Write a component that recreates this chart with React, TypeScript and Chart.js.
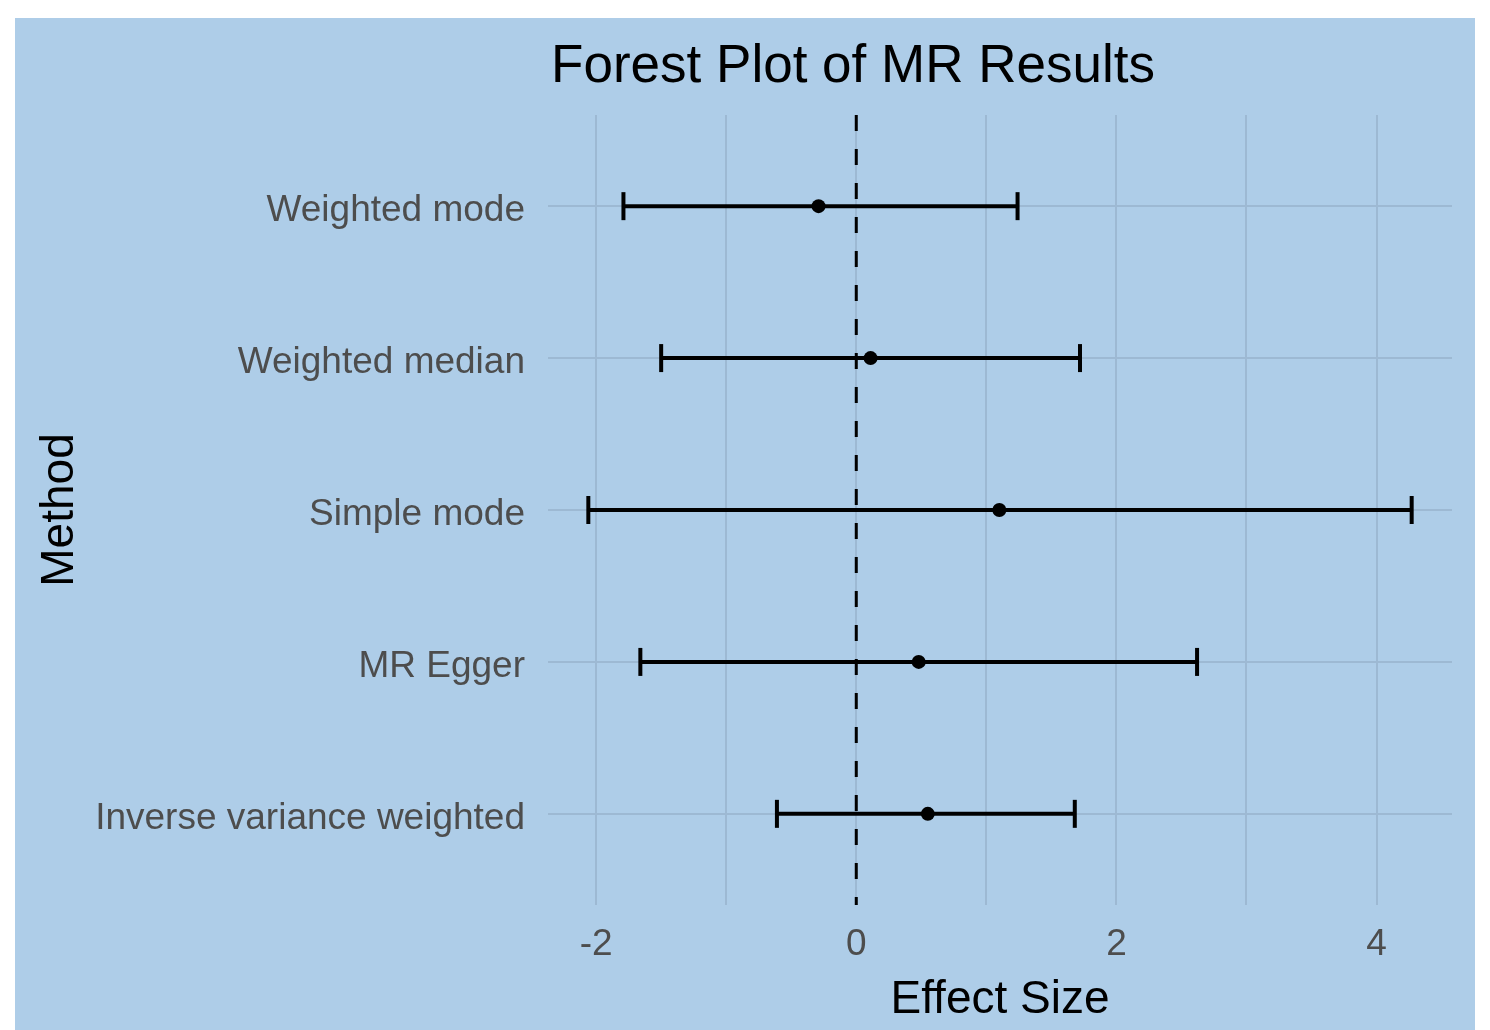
import React, { useEffect, useRef } from "react";
import { Chart, registerables } from "chart.js";

Chart.register(...registerables);

const methods = [
  "Weighted mode",
  "Weighted median",
  "Simple mode",
  "MR Egger",
  "Inverse variance weighted",
];
const estimates = [-0.29, 0.11, 1.1, 0.48, 0.55];
const lowerCI = [-1.79, -1.5, -2.06, -1.66, -0.61];
const upperCI = [1.24, 1.72, 4.27, 2.62, 1.68];
const xTickValues = [-2, -1, 0, 1, 2, 3, 4];
const xTickLabels = ["-2", "", "0", "", "2", "", "4"];
const referenceValue = 0;

const FONT = "'Liberation Sans', Arial, Helvetica, sans-serif";
const BG = "#AECDE8";
const GRID = "#9DB9D3";

const W = 1460;
const H = 1012;
const AREA_LEFT = 533;
const AREA_RIGHT = 1437;
const AREA_TOP = 97;
const AREA_BOTTOM = 887;

const titlePlugin = {
  id: "plotTitle",
  afterDraw(chart: any) {
    const ctx = chart.ctx;
    ctx.save();
    ctx.font = `53px ${FONT}`;
    ctx.fillStyle = "#000000";
    ctx.textAlign = "center";
    ctx.textBaseline = "middle";
    ctx.fillText("Forest Plot of MR Results", 838, 49);
    ctx.restore();
  },
};

export default function App() {
  const ref = useRef<HTMLCanvasElement | null>(null);

  useEffect(() => {
    document.body.style.margin = "0";
    const canvas = ref.current;
    if (!canvas) return;

    const ciDatasets = methods.map((m, i) => ({
      label: m + " CI",
      data: [
        { x: lowerCI[i], y: i },
        { x: upperCI[i], y: i },
      ],
      showLine: true,
      borderColor: "#000000",
      borderWidth: 4,
      pointStyle: "line",
      pointRotation: 90,
      pointRadius: 14,
      pointBorderWidth: 4,
      pointBorderColor: "#000000",
      pointBackgroundColor: "#000000",
      order: 1,
    }));

    const chart = new Chart(canvas, {
      type: "scatter",
      data: {
        datasets: [
          {
            label: "Estimate",
            data: estimates.map((v, i) => ({ x: v, y: i })),
            pointStyle: "circle",
            pointRadius: 7,
            pointBackgroundColor: "#000000",
            pointBorderColor: "#000000",
            pointBorderWidth: 0,
            order: 0,
          } as any,
          ...(ciDatasets as any[]),
          {
            label: "Reference",
            data: [
              { x: referenceValue, y: -0.6 },
              { x: referenceValue, y: methods.length - 0.4 },
            ],
            showLine: true,
            borderColor: "#000000",
            borderWidth: 3,
            borderDash: [16, 18],
            pointRadius: 0,
            order: 2,
          } as any,
        ],
      },
      options: {
        animation: false,
        responsive: false,
        layout: { padding: { top: AREA_TOP, right: W - AREA_RIGHT, left: 0, bottom: 0 } },
        plugins: {
          legend: { display: false },
          tooltip: { enabled: false },
          title: { display: false },
        },
        scales: {
          x: {
            type: "linear",
            min: -2.37,
            max: 4.58,
            bounds: "data",
            border: { display: false },
            grid: { color: GRID, lineWidth: 2, drawTicks: false },
            afterBuildTicks: (scale: any) => {
              scale.ticks = xTickValues.map((v) => ({ value: v }));
            },
            afterFit: (scale: any) => {
              scale.height = H - AREA_BOTTOM;
            },
            ticks: {
              autoSkip: false,
              maxRotation: 0,
              padding: 18,
              color: "#4D4D4D",
              font: { family: FONT, size: 37 },
              callback: (value: any) => {
                const idx = xTickValues.indexOf(Number(value));
                return idx >= 0 ? xTickLabels[idx] : "";
              },
            },
            title: {
              display: true,
              text: "Effect Size",
              color: "#000000",
              font: { family: FONT, size: 46 },
              padding: { top: 0, bottom: 2 },
            },
          },
          y: {
            type: "linear",
            min: -0.6,
            max: methods.length - 0.4,
            reverse: true,
            bounds: "data",
            border: { display: false },
            grid: { color: GRID, lineWidth: 2, drawTicks: false },
            afterBuildTicks: (scale: any) => {
              scale.ticks = methods.map((_, i) => ({ value: i }));
            },
            afterFit: (scale: any) => {
              scale.width = AREA_LEFT;
            },
            ticks: {
              autoSkip: false,
              padding: 23,
              labelOffset: 5,
              color: "#4D4D4D",
              font: { family: FONT, size: 37 },
              callback: (value: any) => methods[Number(value)] ?? "",
            },
            title: {
              display: true,
              text: "Method",
              color: "#000000",
              font: { family: FONT, size: 46 },
              padding: { top: 18, bottom: 0 },
            },
          },
        },
      } as any,
      plugins: [titlePlugin],
    });

    return () => chart.destroy();
  }, []);

  return (
    <div style={{ width: 1490, height: 1030, background: "#ffffff", paddingLeft: 15, paddingTop: 18, boxSizing: "border-box", overflow: "hidden" }}>
      <div style={{ width: W, height: H, background: BG }}>
        <canvas ref={ref} width={W} height={H} style={{ display: "block", width: W, height: H }} />
      </div>
    </div>
  );
}
